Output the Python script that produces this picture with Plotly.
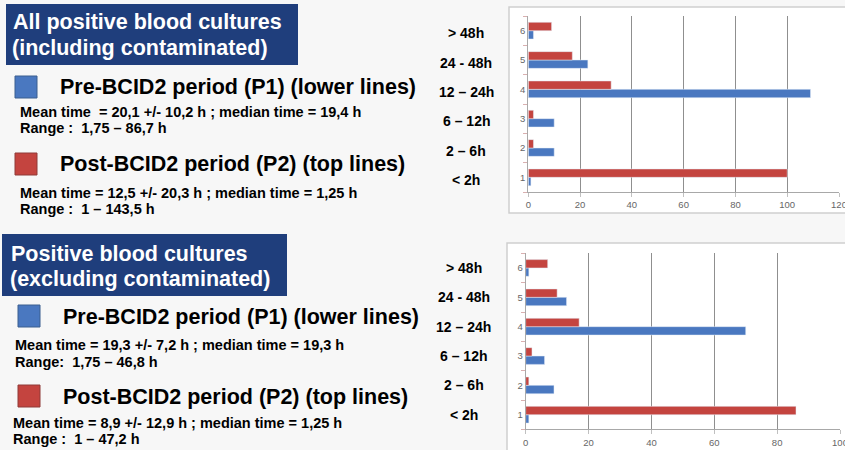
import plotly.graph_objects as go

# ---------------- data ----------------
categories = [1, 2, 3, 4, 5, 6]
category_labels = ["< 2h", "2 – 6h", "6 – 12h", "12 – 24h", "24 - 48h", "> 48h"]

# All positive blood cultures (including contaminated)
all_p1 = [1, 10, 10, 109, 23, 2]     # Pre-BCID2 (blue, lower lines)
all_p2 = [100, 2, 2, 32, 17, 9]      # Post-BCID2 (red, top lines)

# Positive blood cultures (excluding contaminated)
excl_p1 = [1, 9, 6, 70, 13, 1]
excl_p2 = [86, 1, 2, 17, 10, 7]

top_ticks = [0, 20, 40, 60, 80, 100, 120]
bottom_ticks = [0, 20, 40, 60, 80, 100]

title_top = ["All positive blood cultures", "(including contaminated)"]
title_bottom = ["Positive blood cultures", "(excluding contaminated)"]
p1_label = "Pre-BCID2 period (P1) (lower lines)"
p2_label = "Post-BCID2 period (P2) (top lines)"
top_p1_stats = ["Mean time &nbsp;= 20,1 +/- 10,2 h ; median time = 19,4 h", "Range : &nbsp;1,75 – 86,7 h"]
top_p2_stats = ["Mean time = 12,5 +/- 20,3 h ; median time = 1,25 h", "Range : &nbsp;1 – 143,5 h"]
bot_p1_stats = ["Mean time = 19,3 +/- 7,2 h ; median time = 19,3 h", "Range: &nbsp;1,75 – 46,8 h"]
bot_p2_stats = ["Mean time = 8,9 +/- 12,9 h ; median time = 1,25 h", "Range : &nbsp;1 – 47,2 h"]

# ---------------- styling ----------------
W, H = 845, 450
BLUE = "#4a78c0"
RED = "#c4443f"
NAVY = "#1f3e7c"
FONT = "Liberation Sans, Arial, sans-serif"


def px(x):
    return x / W


def py(y):
    return 1 - y / H


fig = go.Figure()

fig.add_trace(go.Bar(y=categories, x=all_p1, orientation="h", marker_color=BLUE,
                     xaxis="x", yaxis="y", name="P1"))
fig.add_trace(go.Bar(y=categories, x=all_p2, orientation="h", marker_color=RED,
                     xaxis="x", yaxis="y", name="P2"))
fig.add_trace(go.Bar(y=categories, x=excl_p1, orientation="h", marker_color=BLUE,
                     xaxis="x2", yaxis="y2", name="P1"))
fig.add_trace(go.Bar(y=categories, x=excl_p2, orientation="h", marker_color=RED,
                     xaxis="x2", yaxis="y2", name="P2"))

tickfont = dict(family=FONT, size=9.5, color="#666666")

common_x = dict(showgrid=True, gridcolor="#8f8f8f", gridwidth=1, zeroline=False,
                showline=True, linecolor="#a8a8a8", linewidth=1,
                ticks="outside", ticklen=4, tickcolor="#c0c0c0",
                tickfont=tickfont, fixedrange=True, ticklabeloverflow="allow",
                automargin=False)
common_y = dict(showgrid=False, zeroline=False, showline=True, linecolor="#a8a8a8",
                linewidth=1, range=[0.5, 6.5], tickvals=categories,
                ticktext=[str(c) for c in categories], ticks="",
                minor=dict(ticks="outside", tick0=0.5, dtick=1, ticklen=4,
                           tickcolor="#d9b0b0"),
                tickfont=tickfont, fixedrange=True, automargin=False)

fig.update_layout(
    width=W, height=H,
    margin=dict(l=0, r=0, t=0, b=0),
    paper_bgcolor="#f7f7f7",
    plot_bgcolor="rgba(0,0,0,0)",
    showlegend=False,
    barmode="group",
    bargap=0.43,
    bargroupgap=0,
    xaxis=dict(common_x, domain=[px(528.3), px(839)], range=[0, 120],
               tickvals=top_ticks, anchor="y"),
    yaxis=dict(common_y, domain=[py(192), py(16)], anchor="x"),
    xaxis2=dict(common_x, domain=[px(525.7), px(840)], range=[0, 100],
                tickvals=bottom_ticks, anchor="y2"),
    yaxis2=dict(common_y, domain=[py(429.4), py(253.3)], anchor="x2"),
)

shapes = []
# chart frames
shapes.append(dict(type="rect", xref="paper", yref="paper", x0=px(509), x1=px(870),
                   y0=py(213), y1=py(7), line=dict(color="#cfcfcf", width=1.5),
                   fillcolor="#ffffff", layer="below"))
shapes.append(dict(type="rect", xref="paper", yref="paper", x0=px(507), x1=px(870),
                   y0=py(470), y1=py(243), line=dict(color="#cfcfcf", width=1.5),
                   fillcolor="#ffffff", layer="below"))
# title boxes
shapes.append(dict(type="rect", xref="paper", yref="paper", x0=px(6), x1=px(298),
                   y0=py(65), y1=py(4), line=dict(width=0), fillcolor=NAVY, layer="below"))
shapes.append(dict(type="rect", xref="paper", yref="paper", x0=px(2), x1=px(287),
                   y0=py(296), y1=py(234), line=dict(width=0), fillcolor=NAVY, layer="below"))
# legend squares
for (x0, y0, col) in [(15, 76, BLUE), (15, 153, RED), (18, 305, BLUE), (18, 385, RED)]:
    shapes.append(dict(type="rect", xref="paper", yref="paper", x0=px(x0), x1=px(x0 + 22),
                       y0=py(y0 + 22), y1=py(y0),
                       line=dict(color="#3b5f8f" if col == BLUE else "#8f3a38", width=1),
                       fillcolor=col, layer="below"))
fig.update_layout(shapes=shapes)

ann = []


def text(x, y, s, size, color="#000000", bold=True):
    # annotation boxes add a few pixels of padding before the text
    ann.append(dict(xref="paper", yref="paper", x=px(x - 4.5), y=py(y),
                    text=(f"<b>{s}</b>" if bold else s),
                    showarrow=False, xanchor="left", yanchor="middle",
                    font=dict(family=FONT, size=size, color=color)))


# titles
text(15, 22, title_top[0], 21.5, "#ffffff")
text(14, 48, title_top[1], 21.5, "#ffffff")
text(13, 254, title_bottom[0], 21.5, "#ffffff")
text(12, 279, title_bottom[1], 21.5, "#ffffff")

# legend texts (top panel)
text(62, 87, p1_label, 21.5)
text(22, 112, top_p1_stats[0], 14.5)
text(22, 128, top_p1_stats[1], 14.5)
text(62, 164, p2_label, 21.5)
text(22, 193, top_p2_stats[0], 14.5)
text(22, 209, top_p2_stats[1], 14.5)

# legend texts (bottom panel)
text(65, 317, p1_label, 21.5)
text(17, 345, bot_p1_stats[0], 14.5)
text(17, 362, bot_p1_stats[1], 14.5)
text(65, 397, p2_label, 21.5)
text(15, 423, bot_p2_stats[0], 14.5)
text(15, 439, bot_p2_stats[1], 14.5)

# category labels beside each chart
for c, lab in zip(categories, category_labels):
    ann.append(dict(xref="paper", yref="y", x=px(466), y=c, yshift=-2.5, text=f"<b>{lab}</b>",
                    showarrow=False, xanchor="center", yanchor="middle",
                    font=dict(family=FONT, size=14, color="#000000")))
    ann.append(dict(xref="paper", yref="y2", x=px(463.5), y=c, text=f"<b>{lab}</b>",
                    showarrow=False, xanchor="center", yanchor="middle",
                    font=dict(family=FONT, size=14, color="#000000")))

fig.update_layout(annotations=ann)

fig.write_html("out.html",
               config={"displayModeBar": False},
               post_script="document.body.style.margin='0';document.body.style.padding='0';"
                           "document.body.style.overflow='hidden';"
                           "document.documentElement.style.overflow='hidden';")
